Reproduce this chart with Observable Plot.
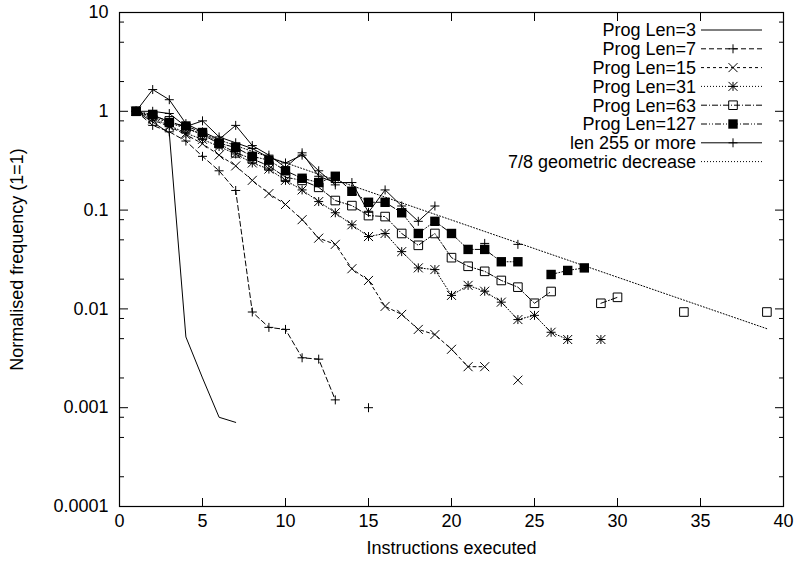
<!DOCTYPE html>
<html><head><meta charset="utf-8">
<script src="https://cdn.jsdelivr.net/npm/d3@7"></script>
<script src="https://cdn.jsdelivr.net/npm/@observablehq/plot@0.6"></script>
<style>
html,body{margin:0;padding:0;background:#fff;}
#chart{width:795px;height:566px;}
</style></head><body><div id="chart"></div>
<script>
// ---- tick definitions ----
const xTicks = [0, 5, 10, 15, 20, 25, 30, 35, 40];
const xTickLabels = ["0", "5", "10", "15", "20", "25", "30", "35", "40"];
const yMajorTicks = [0.0001, 0.001, 0.01, 0.1, 1, 10];
const yTickLabels = ["0.0001", "0.001", "0.01", "0.1", "1", "10"];
const yMinorTicks = [0.0002, 0.0005, 0.0008, 0.002, 0.005, 0.008, 0.02, 0.05, 0.08,
                     0.2, 0.5, 0.8, 2, 5, 8];

// ---- series (value at instructions executed = 1, 2, 3, ...; null = no point) ----
const seriesNames = ["Prog Len=3", "Prog Len=7", "Prog Len=15", "Prog Len=31",
  "Prog Len=63", "Prog Len=127", "len 255 or more", "7/8 geometric decrease"];

const len3 = [1, 0.78, 0.6, 0.0052, 0.002, 0.0008, 0.00071];
const len7 = [1, 0.72, 0.62, 0.5, 0.35, 0.25, 0.158, 0.0093, 0.0065, 0.0062, 0.0032,
  0.0031, 0.0012, null, 0.001];
const len15 = [1, 0.82, 0.7, 0.58, 0.47, 0.36, 0.28, 0.2, 0.147, 0.114, 0.08, 0.052,
  0.045, 0.0255, 0.0194, 0.0106, 0.0088, 0.0062, 0.0055, 0.0039, 0.0026, 0.0026, null, 0.0019];
const len31 = [1, 0.85, 0.72, 0.6, 0.52, 0.44, 0.37, 0.3, 0.26, 0.2, 0.16, 0.122, 0.094,
  0.071, 0.054, 0.058, 0.038, 0.026, 0.025, 0.0137, 0.0173, 0.0151, 0.0117, 0.0078,
  0.0086, 0.0058, 0.0049, null, 0.0049];
const len63 = [1, 0.9, 0.8, 0.68, 0.58, 0.47, 0.38, 0.33, 0.28, 0.215, 0.2, 0.17, 0.125,
  0.111, 0.088, 0.086, 0.058, 0.044, 0.058, 0.033, 0.027, 0.024, 0.0194, 0.0166, 0.0114,
  0.015, null, null, 0.0114, 0.0131, null, null, null, 0.0093, null, null, null, null, 0.0093];
const len127 = [1, 0.93, 0.77, 0.71, 0.61, 0.475, 0.43, 0.35, 0.32, 0.25, 0.21, 0.19,
  0.22, 0.155, 0.12, 0.12, 0.094, 0.058, 0.077, 0.058, 0.04, 0.04, 0.03, 0.03, null,
  0.0223, 0.0245, 0.026];
const len255a = [1, 1.66, 1.31, 0.75, 0.62, 0.52, 0.72, 0.45, 0.36, 0.27, 0.38, 0.22,
  0.19, 0.19, 0.095, 0.16, 0.11, 0.077, 0.11, null, null, 0.046, null, 0.045];
const len255b = [1, 1.0, 0.95, 0.7, 0.8, 0.55, 0.48, 0.42, 0.34, 0.3, 0.36, 0.25, 0.18];
const geoX = [1, 39];
const geoY = [1, 0.0063];

// ---- styles ----
const FONT = "'Liberation Sans', Arial, Helvetica, sans-serif";
const dashes = ["none", "5,3", "3,3", "1,2", "6,2,1,2", "6,2,1,2,1,2", "none", "1,2"];

const plusSym = {draw(c, s) { const r = Math.sqrt(s / Math.PI); c.moveTo(-r, 0); c.lineTo(r, 0); c.moveTo(0, -r); c.lineTo(0, r); }};
const timesSym = {draw(c, s) { const r = Math.sqrt(s / Math.PI); c.moveTo(-r, -r); c.lineTo(r, r); c.moveTo(-r, r); c.lineTo(r, -r); }};
const starSym = {draw(c, s) { const r = Math.sqrt(s / Math.PI); c.moveTo(-r, 0); c.lineTo(r, 0); c.moveTo(0, -r); c.lineTo(0, r); c.moveTo(-r, -r); c.lineTo(r, r); c.moveTo(-r, r); c.lineTo(r, -r); }};
const boxSym = {draw(c, s) { const r = Math.sqrt(s / Math.PI); c.moveTo(-r, -r); c.lineTo(r, -r); c.lineTo(r, r); c.lineTo(-r, r); c.closePath(); }};
const symbols = [null, plusSym, timesSym, starSym, boxSym, boxSym, plusSym, null];
const fills = [null, "none", "none", "none", "none", "black", "none", null];
const strokes = [null, "black", "black", "black", "black", "none", "black", null];
const radii = [0, 4.5, 4.5, 4.5, 4.3, 4.7, 4.5, 0];

const rows = (vals, name) => vals.map((v, i) => ({x: i + 1, y: v, name}));

const seriesData = [
  [rows(len3, seriesNames[0])],
  [rows(len7, seriesNames[1])],
  [rows(len15, seriesNames[2])],
  [rows(len31, seriesNames[3])],
  [rows(len63, seriesNames[4])],
  [rows(len127, seriesNames[5])],
  [rows(len255a, seriesNames[6]), rows(len255b, seriesNames[6])],
];
const geoData = geoX.map((x, i) => ({x, y: geoY[i]}));

const marks = [];
seriesData.forEach((parts, k) => {
  parts.forEach(d => {
    marks.push(Plot.line(d, {x: "x", y: "y", stroke: "black", strokeWidth: 1,
      strokeDasharray: dashes[k] === "none" ? null : dashes[k]}));
    if (symbols[k]) marks.push(Plot.dot(d.filter(r => r.y != null), {x: "x", y: "y",
      symbol: symbols[k], r: radii[k], fill: fills[k], stroke: strokes[k], strokeWidth: 1}));
  });
});
marks.push(Plot.line(geoData, {x: "x", y: "y", stroke: "black", strokeWidth: 1, strokeDasharray: dashes[7]}));

const xFmt = d => xTickLabels[xTicks.indexOf(d)];
const yFmt = d => yTickLabels[yMajorTicks.indexOf(d)];
const empty = () => "";

const chart = Plot.plot({
  width: 795, height: 566,
  marginLeft: 119, marginRight: 12, marginTop: 12, marginBottom: 60,
  style: {fontFamily: FONT, fontSize: "18px", color: "black", background: "white"},
  x: {domain: [0, 40]},
  y: {type: "log", domain: [0.0001, 10]},
  marks: [
    Plot.axisX({ticks: xTicks, tickSize: -8, tickFormat: empty, label: null}),
    Plot.axisX({anchor: "top", ticks: xTicks, tickSize: -8, tickFormat: empty, label: null}),
    Plot.axisX({ticks: xTicks, tickSize: 0, tickPadding: 8, tickFormat: xFmt,
      label: "Instructions executed", labelAnchor: "center", labelArrow: "none", labelOffset: 47}),
    Plot.axisY({ticks: yMajorTicks, tickSize: -9, tickFormat: empty, label: null}),
    Plot.axisY({anchor: "right", ticks: yMajorTicks, tickSize: -9, tickFormat: empty, label: null}),
    Plot.axisY({ticks: yMinorTicks, tickSize: -5, tickFormat: empty, label: null}),
    Plot.axisY({anchor: "right", ticks: yMinorTicks, tickSize: -5, tickFormat: empty, label: null}),
    Plot.axisY({ticks: yMajorTicks, tickSize: 0, tickPadding: 11, tickFormat: yFmt,
      label: "Normalised frequency (1=1)", labelAnchor: "center", labelArrow: "none", labelOffset: 109}),
    ...marks,
    Plot.frame({stroke: "black", strokeWidth: 1.2})
  ]
});
document.getElementById("chart").appendChild(chart);

// ---- legend (inside plot, top right) ----
const svg = d3.select(chart);
const lg = svg.append("g").attr("font-family", FONT).attr("font-size", 18);
seriesNames.forEach((name, i) => {
  const y = 30 + i * 18.8;
  lg.append("text").attr("x", 696).attr("y", y).attr("dy", "0.35em")
    .attr("text-anchor", "end").attr("fill", "black").text(name);
  lg.append("line").attr("x1", 701).attr("x2", 762).attr("y1", y).attr("y2", y)
    .attr("stroke", "black").attr("stroke-width", 1)
    .attr("stroke-dasharray", dashes[i] === "none" ? null : dashes[i]);
  if (symbols[i]) {
    lg.append("path").attr("transform", `translate(733,${y})`)
      .attr("d", d3.symbol(symbols[i], Math.PI * radii[i] * radii[i])())
      .attr("fill", fills[i]).attr("stroke", strokes[i]).attr("stroke-width", 1);
  }
});
</script></body></html>
